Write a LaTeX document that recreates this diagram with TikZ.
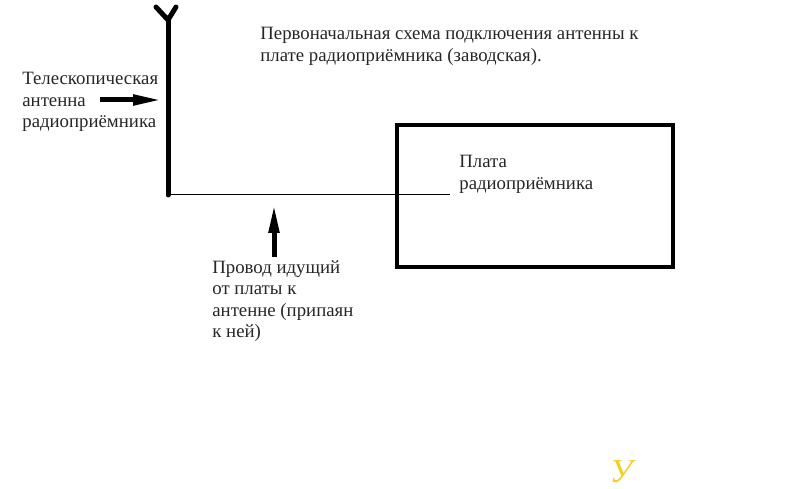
\documentclass[tikz,border=0pt]{standalone}
\usepackage{fontspec}
\setmainfont{Liberation Serif}
\usetikzlibrary{arrows.meta}
\tikzset{
	label/.style={inner sep=0pt, anchor=north west, align=left, text=black!85, font=\fontsize{10.7}{12.2}\selectfont},
	pointer/.style={line width=.1cm, -{Triangle[length=.58cm,width=.2cm]}},
	mast/.style={line width=.1cm, line cap=round, line join=round}
}
\begin{document}
\begin{tikzpicture}[x=.02cm,y=-.02cm]
	\useasboundingbox (0,0) rectangle (800,489);
	% antenna
	\coordinate (tip) at (168,20);
	\coordinate (foot) at (168,195);
	\coordinate (armL) at (156,7);
	\coordinate (armR) at (176,7);
	\draw[mast] (foot)--(tip);
	\draw[mast] (armL)--(tip)--(armR);
	% board
	\node[draw, line width=.08cm, minimum width=5.52cm, minimum height=2.84cm, inner sep=0pt] (board) at (535,196) {};
	\coordinate (wireEnd) at (450,195);
	\draw[line width=.02cm] (foot)--(wireEnd);
	% labels
	\node[label] (title) at (260,27) {Первоначальная схема подключения антенны к\\плате радиоприёмника (заводская).};
	\node[label] (boardText) at (459,155) {Плата\\радиоприёмника};
	\node[label] (antText) at (22,72) {Телескопическая\\антенна\\радиоприёмника};
	\node[label] (wireText) at (212,260) {Провод идущий\\от платы к\\антенне (припаян\\к ней)};
	% pointers
	\coordinate (antFrom) at (100,100);
	\coordinate (antTo) at (162,100);
	\coordinate (wireFrom) at (274,257);
	\coordinate (wireTo) at (274,204);
	\draw[pointer] (antFrom)--(antTo);
	\draw[pointer] (wireFrom)--(wireTo);
	% mark
	\node[inner sep=0pt, text={rgb,255:red,245;green,205;blue,30}, font=\fontsize{19}{19}\selectfont\itshape] (mark) at (621,472) {У};
\end{tikzpicture}
\end{document}
